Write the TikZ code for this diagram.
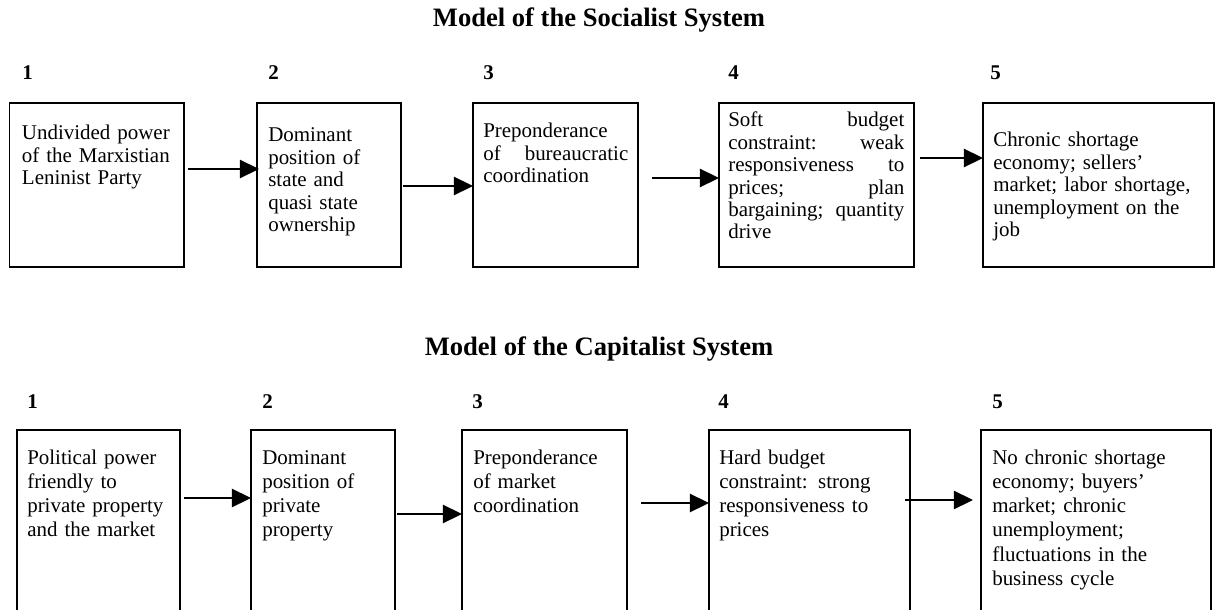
\documentclass[tikz,border=0pt]{standalone}
\usepackage{fontspec}
\setmainfont{Liberation Serif}
\usetikzlibrary{arrows.meta}

\def\px{0.025cm}

\begin{document}
\begin{tikzpicture}[
            x=\px, y=-\px,
            box node/.style={draw, line width=0.95pt, inner sep=0pt, outer sep=0pt, anchor=north west},
            top text/.style={inner sep=0pt, anchor=base west, align=left, text width=#1,
                font=\fontsize{14.9}{15.9}\selectfont},
            low text/.style={top text=#1, font=\fontsize{14.9}{17.3}\selectfont},
            num node/.style={inner sep=0pt, anchor=base west, font=\fontsize{14.9}{16}\selectfont\bfseries},
            title node/.style={inner sep=0pt, anchor=base, font=\fontsize{18.9}{20}\selectfont\bfseries},
            arrow/.style={line width=1pt, -{Triangle[length=0.48cm, width=0.46cm]}},
            ]
            \useasboundingbox (0,0) rectangle (1217,610);
            \clip (0,0) rectangle (1217,610);
            
            % socialist system
            \node[title node] (soc) at (599,27) {Model of the Socialist System};
            \node[num node] (sn1) at (22,80) {1};
            \node[num node] (sn2) at (268,80) {2};
            \node[num node] (sn3) at (483,80) {3};
            \node[num node] (sn4) at (728,80) {4};
            \node[num node] (sn5) at (990,80) {5};
            
            \node[box node, minimum width=174.5*\px, minimum height=164*\px] (s1) at (9.5,103) {};
            \node[box node, minimum width=144*\px, minimum height=164*\px] (s2) at (257,103) {};
            \node[box node, minimum width=165*\px, minimum height=164*\px] (s3) at (473,103) {};
            \node[box node, minimum width=195*\px, minimum height=164*\px] (s4) at (719,103) {};
            \node[box node, minimum width=231*\px, minimum height=164*\px] (s5) at (983,103) {};
            
            \node[top text=4.2cm] (st1) at (21.7,140) {Undivided power\\of the Marxistian\\Leninist Party};
            \node[top text=3.3cm] (st2) at (268,142) {Dominant\\position of\\state and\\quasi state\\ownership};
            \node[top text=3.625cm] (st3) at (483,138) {Preponderance\\of\hspace{\fill}bureaucratic\\coordination};
            \node[top text=4.4cm] (st4) at (728,127) {Soft\hspace{\fill}budget\\constraint:\hspace{\fill}weak\\responsiveness\hspace{\fill}to\\prices;\hspace{\fill}plan\\bargaining;\hspace{\fill}quantity\\drive};
            \node[top text=5.4cm] (st5) at (993,147) {Chronic shortage\\economy; sellers’\\market; labor shortage,\\unemployment on the\\job};
            
            \draw[arrow] ([xshift=4*\px]s1.east |- 0,169) -- ([xshift=2*\px]s2.west |- 0,169);
            \draw[arrow] ([xshift=2*\px]s2.east |- 0,186) -- (s3.west |- 0,186);
            \draw[arrow] ([xshift=14*\px]s3.east |- 0,178) -- (s4.west |- 0,178);
            \draw[arrow] ([xshift=6*\px]s4.east |- 0,158) -- (s5.west |- 0,158);
            
            % capitalist system
            \node[title node] (cap) at (599,355) {Model of the Capitalist System};
            \node[num node] (cn1) at (27,408) {1};
            \node[num node] (cn2) at (262,408) {2};
            \node[num node] (cn3) at (472,408) {3};
            \node[num node] (cn4) at (718,408) {4};
            \node[num node] (cn5) at (992,408) {5};
            
            \node[box node, minimum width=163*\px, minimum height=200*\px] (c1) at (17,430) {};
            \node[box node, minimum width=144*\px, minimum height=200*\px] (c2) at (251,430) {};
            \node[box node, minimum width=165*\px, minimum height=200*\px] (c3) at (462,430) {};
            \node[box node, minimum width=201*\px, minimum height=200*\px] (c4) at (709,430) {};
            \node[box node, minimum width=230*\px, minimum height=200*\px] (c5) at (981,430) {};
            
            \node[low text=3.8cm] (ct1) at (27,464) {Political power\\friendly to\\private property\\and the market};
            \node[low text=3.3cm] (ct2) at (262,464) {Dominant\\position of\\private\\property};
            \node[low text=3.8cm] (ct3) at (473,464) {Preponderance\\of market\\coordination};
            \node[low text=4.6cm] (ct4) at (719,464) {Hard budget\\constraint: strong\\responsiveness to\\prices};
            \node[low text=5.4cm] (ct5) at (992,464) {No chronic shortage\\economy; buyers’\\market; chronic\\unemployment;\\fluctuations in the\\business cycle};
            
            \draw[arrow] ([xshift=4*\px]c1.east |- 0,498) -- (c2.west |- 0,498);
            \draw[arrow] ([xshift=2*\px]c2.east |- 0,514) -- (c3.west |- 0,514);
            \draw[arrow] ([xshift=14*\px]c3.east |- 0,503) -- (c4.west |- 0,503);
            \draw[arrow] ([xshift=-5*\px]c4.east |- 0,500) -- ([xshift=-8*\px]c5.west |- 0,500);
        \end{tikzpicture}
\end{document}
